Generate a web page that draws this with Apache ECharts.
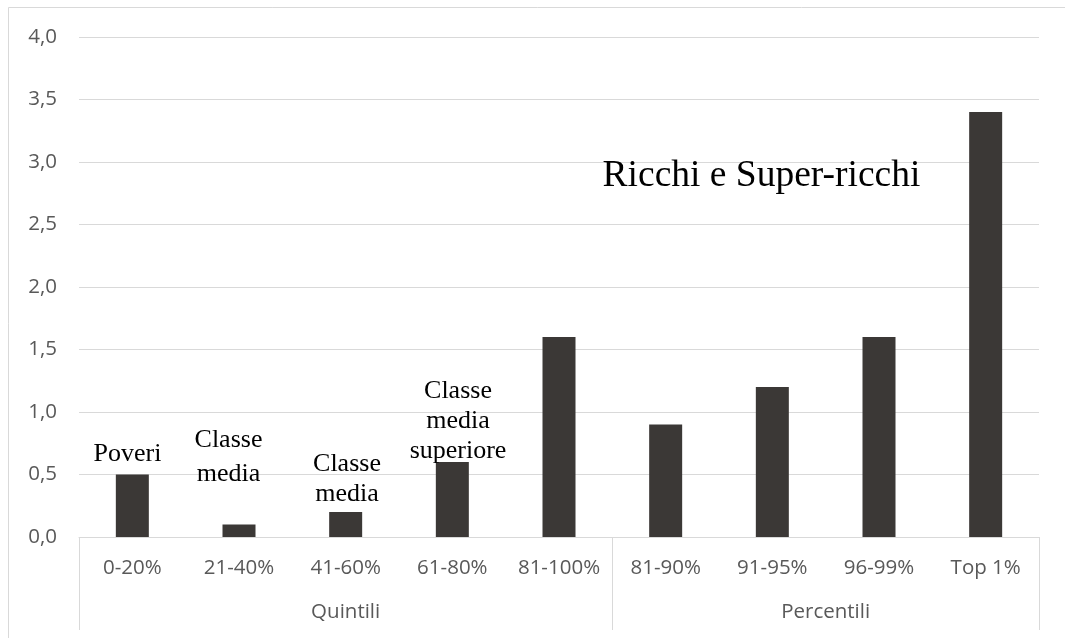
<!DOCTYPE html>
<html>
<head>
<meta charset="utf-8">
<style>
  html, body { margin: 0; padding: 0; background: #ffffff; }
  #chart { width: 1065px; height: 638px; }
</style>
<script src="https://cdn.jsdelivr.net/npm/echarts@6/dist/echarts.min.js"></script>
</head>
<body>
<div id="chart"></div>
<script>
// Categories (first level of the x axis)
const categories = ['0-20%', '21-40%', '41-60%', '61-80%', '81-100%', '81-90%', '91-95%', '96-99%', 'Top 1%'];
// Values per category
const values = [0.5, 0.1, 0.2, 0.6, 1.6, 0.9, 1.2, 1.6, 3.4];
// Second level of the x axis: group names and how many categories each spans
const groupNames = ['Quintili', 'Percentili'];
const groupSizes = [5, 4];
// Y axis ticks
const yMin = 0, yMax = 4, yStep = 0.5;

// Free-floating annotation texts
const notes = [
  { text: 'Poveri', x: 127.5, top: 439, size: 26, lh: 30 },
  { text: 'Classe\nmedia', x: 228.5, top: 423, size: 26, lh: 34 },
  { text: 'Classe\nmedia', x: 347, top: 449, size: 26, lh: 30 },
  { text: 'Classe\nmedia\nsuperiore', x: 458, top: 376, size: 26, lh: 30 },
  { text: 'Ricchi e Super-ricchi', x: 761.5, top: 155, size: 37.5, lh: 42 }
];

const AXIS_FONT = '"Open Sans", sans-serif';
const AXIS_COLOR = '#595959';
const LINE_COLOR = '#d9d9d9';

const chart = echarts.init(document.getElementById('chart'), null, { renderer: 'canvas' });

const option = {
  backgroundColor: '#ffffff',
  animation: false,
  grid: { left: 79, right: 26, top: 37, bottom: 101, containLabel: false },
  xAxis: {
    type: 'category',
    data: categories,
    axisLine: { show: true, lineStyle: { color: LINE_COLOR, width: 1 } },
    axisTick: { show: false },
    axisLabel: {
      color: AXIS_COLOR, fontFamily: AXIS_FONT, fontSize: 20.5,
      margin: 20, lineHeight: 22, interval: 0
    }
  },
  yAxis: {
    type: 'value',
    min: yMin, max: yMax, interval: yStep,
    axisLine: { show: false },
    axisTick: { show: false },
    splitLine: { lineStyle: { color: LINE_COLOR, width: 1 } },
    axisLabel: {
      color: AXIS_COLOR, fontFamily: AXIS_FONT, fontSize: 20.5, margin: 22,
      formatter: v => v.toFixed(1).replace('.', ',')
    }
  },
  series: [{
    type: 'bar',
    data: values,
    barWidth: 33,
    itemStyle: { color: '#3b3836' }
  }]
};
chart.setOption(option);

// Build the group level of the axis (separators + group names) from the category scale
function buildGroups() {
  const c0 = chart.convertToPixel({ xAxisIndex: 0 }, categories[0]);
  const c1 = chart.convertToPixel({ xAxisIndex: 0 }, categories[1]);
  const band = c1 - c0;
  const axisY = chart.convertToPixel({ yAxisIndex: 0 }, 0);
  const bottomY = 630;
  const elems = [];

  // outer chart frame
  elems.push({
    type: 'rect', silent: true, z: 0,
    shape: { x: 8.5, y: 7.5, width: 1200, height: 800 },
    style: { fill: null, stroke: LINE_COLOR, lineWidth: 1 }
  });

  let start = 0;
  const bounds = [c0 - band / 2];
  groupSizes.forEach((n, gi) => {
    const leftX = c0 + (start - 0.5) * band;
    const rightX = c0 + (start + n - 0.5) * band;
    bounds.push(rightX);
    elems.push({
      type: 'text', silent: true,
      x: (leftX + rightX) / 2, y: 612,
      style: {
        text: groupNames[gi], fill: AXIS_COLOR, font: '20.5px ' + AXIS_FONT,
        align: 'center', verticalAlign: 'middle'
      }
    });
    start += n;
  });
  bounds.forEach(bx => {
    const x = Math.round(bx) + 0.5;
    elems.push({
      type: 'line', silent: true,
      shape: { x1: x, y1: axisY, x2: x, y2: bottomY },
      style: { stroke: LINE_COLOR, lineWidth: 1 }
    });
  });

  notes.forEach(n => {
    elems.push({
      type: 'text', silent: true, z: 10,
      x: n.x, y: n.top,
      style: {
        text: n.text, fill: '#000000',
        font: n.size + 'px "Liberation Serif", "Times New Roman", serif',
        lineHeight: n.lh, align: 'center', verticalAlign: 'top'
      }
    });
  });

  chart.setOption({ graphic: { elements: elems } });
}
buildGroups();
</script>
</body>
</html>
